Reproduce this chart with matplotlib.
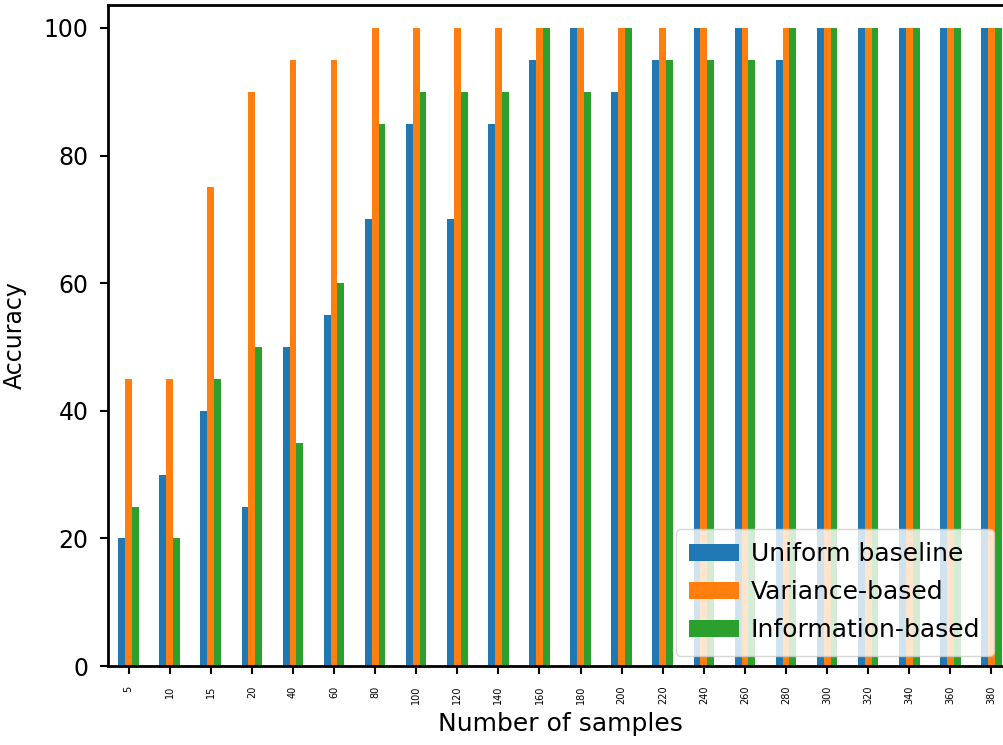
import matplotlib
matplotlib.use("Agg")
import matplotlib.pyplot as plt
import numpy as np

samples = [5, 10, 15, 20, 40, 60, 80, 100, 120, 140, 160, 180, 200, 220, 240, 260,
           280, 300, 320, 340, 360, 380]
uniform = [20, 30, 40, 25, 50, 55, 70, 85, 70, 85, 95, 100, 90, 95, 100, 100,
           95, 100, 100, 100, 100, 100]
variance = [45, 45, 75, 90, 95, 95, 100, 100, 100, 100, 100, 100, 100, 100, 100, 100,
            100, 100, 100, 100, 100, 100]
information = [25, 20, 45, 50, 35, 60, 85, 90, 90, 90, 100, 90, 100, 95, 95, 95,
               100, 100, 100, 100, 100, 100]
series_names = ["Uniform baseline", "Variance-based", "Information-based"]
colors = ["#1f77b4", "#ff7f0e", "#2ca02c"]

fig = plt.figure(figsize=(10.04, 7.45), dpi=100)
ax = fig.add_axes([0.1076, 0.106, 0.9004, 0.8873])

x = np.arange(len(samples))
w = 0.5 / 3
for i, (vals, name, c) in enumerate(zip([uniform, variance, information], series_names, colors)):
    ax.bar(x + (i - 1) * w, vals, width=w, color=c, label=name)

ax.set_xlim(-0.5, len(samples) - 0.5)
ax.set_ylim(0, 103.6)
ax.set_xticks(x)
ax.set_xticklabels([str(s) for s in samples], rotation=90, fontsize=7)
ax.set_yticks([0, 20, 40, 60, 80, 100])
ax.tick_params(axis='y', labelsize=17, width=1.5, length=6, pad=8)
ax.tick_params(axis='x', width=1.5, length=6, pad=8)
ax.set_xlabel("Number of samples", fontsize=18, labelpad=6)
ax.set_ylabel("Accuracy", fontsize=17, labelpad=12)
for s in ax.spines.values():
    s.set_linewidth(2)
ax.legend(loc="lower right", fontsize=18, borderaxespad=0, borderpad=0.55,
          handletextpad=0.45, labelspacing=0.56,
          bbox_to_anchor=(994 / 1004, (745 - 656) / 745),
          bbox_transform=fig.transFigure)

fig.savefig("out.png", dpi=100)
